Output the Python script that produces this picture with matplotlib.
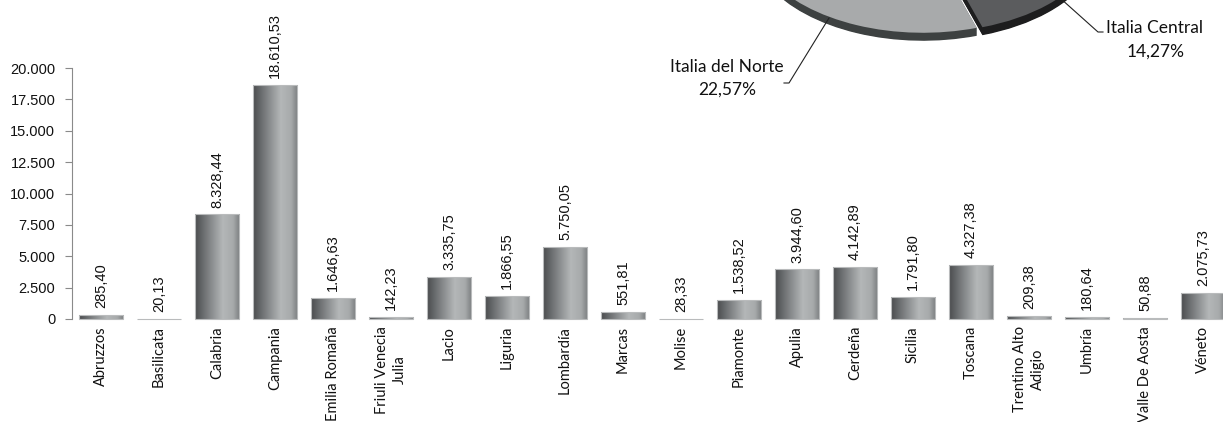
import numpy as np
import matplotlib
matplotlib.use("Agg")
import matplotlib.pyplot as plt
from matplotlib.colors import LinearSegmentedColormap
from matplotlib.lines import Line2D
from matplotlib.ticker import FuncFormatter, FixedLocator

# ---------------- data ----------------
regions = ["Abruzzos", "Basilicata", "Calabria", "Campania", "Emilia Romaña",
           "Friuli Venecia\nJulia", "Lacio", "Liguria", "Lombardía", "Marcas",
           "Molise", "Piamonte", "Apulia", "Cerdeña", "Sicilia", "Toscana",
           "Trentino Alto\nAdigio", "Umbría", "Valle De Aosta", "Véneto"]
values = [285.40, 20.13, 8328.44, 18610.53, 1646.63, 142.23, 3335.75, 1866.55,
          5750.05, 551.81, 28.33, 1538.52, 3944.60, 4142.89, 1791.80, 4327.38,
          209.38, 180.64, 50.88, 2075.73]
y_ticks = [0, 2500, 5000, 7500, 10000, 12500, 15000, 17500, 20000]

zones = ["Italia Central", "Italia del Norte", "Italia del Sur", "Islas"]
zone_shares = [14.27, 22.57, 53.07, 10.09]

# ---------------- helpers ----------------
def es_num(v, dec=2):
    s = f"{v:,.{dec}f}"
    return s.replace(",", "X").replace(".", ",").replace("X", ".")

W, H = 1223, 422
fig = plt.figure(figsize=(W / 100, H / 100), dpi=100)
fig.patch.set_facecolor("white")

NUM_FONT = ["Liberation Sans", "DejaVu Sans"]
LBL_FONT = ["Lato", "DejaVu Sans"]

# ---------------- bar chart ----------------
ax = fig.add_axes([72 / W, 103 / H, 1160 / W, 251 / H])
x = np.arange(len(regions))
cmap = LinearSegmentedColormap.from_list(
    "cyl", [(0.0, "#4a4c4e"), (0.30, "#7e8183"), (0.62, "#b4b7b8"),
            (0.85, "#a7aaab"), (1.0, "#7a7d7f")])
bars = ax.bar(x, values, width=0.76, facecolor="none", edgecolor="#b9bbbc",
              linewidth=0.8, zorder=3, clip_on=False)
grad = np.linspace(0, 1, 256)[None, :]
for b in bars:
    x0, w, h = b.get_x(), b.get_width(), b.get_height()
    im = ax.imshow(grad, extent=[x0, x0 + w, 0, h], aspect="auto", cmap=cmap,
                   interpolation="bilinear", zorder=2)
    im.set_clip_path(b)

ax.set_xlim(-0.5, len(regions) - 0.5)
ax.set_ylim(0, 20000)
ax.set_aspect("auto")

for s in ["top", "right", "bottom"]:
    ax.spines[s].set_visible(False)
ax.spines["left"].set_color("#8a8a8a")
ax.spines["left"].set_linewidth(0.8)

ax.yaxis.set_major_locator(FixedLocator(y_ticks))
ax.yaxis.set_major_formatter(FuncFormatter(lambda v, p: es_num(v, 0)))
ax.tick_params(axis="y", length=5, width=0.8, color="#8a8a8a", labelsize=10.5,
               pad=7, labelcolor="#111111")
for t in ax.get_yticklabels():
    t.set_family(NUM_FONT)

ax.set_xticks(x)
ax.set_xticklabels(regions, rotation=90, ha="center", va="top",
                   multialignment="center", fontsize=10.5, family=LBL_FONT,
                   color="#111111", linespacing=1.3)
ax.tick_params(axis="x", length=0, pad=5)

for xi, v in zip(x, values):
    ax.annotate(es_num(v), (xi, v), xytext=(0, 5), textcoords="offset points",
                rotation=90, ha="center", va="bottom", fontsize=10.5,
                family=NUM_FONT, color="#111111", annotation_clip=False)

# ---------------- pie (partially off-figure) ----------------
pax = fig.add_axes([752 / W, 392 / H, 346 / W, 200 / H])
top_cols = ["#5b5c5e", "#a8aaab", "#8a8c8e", "#6e7072"]
side_cols = ["#1d1d1e", "#3d4141", "#4a4c4e", "#333435"]
explode = [0.03, 0.03, 0.0, 0.0]
depth = 0.08
for d in np.linspace(depth, 0.005, 12):
    pax.pie(zone_shares, colors=side_cols, startangle=-20.5, counterclock=False,
            explode=explode, center=(0, -d), radius=1.0,
            wedgeprops=dict(linewidth=0))
pax.pie(zone_shares, colors=top_cols, startangle=-20.5, counterclock=False,
        explode=explode, center=(0, 0), radius=1.0, wedgeprops=dict(linewidth=0))
pax.set_aspect("auto")
pax.set_xlim(-1, 1)
pax.set_ylim(-1, 1)
pax.axis("off")

# labels + leader lines (figure pixel coordinates)
def fx(px):
    return px / W

def fy(py):
    return 1 - py / H

PIE_FS = 12.5
fig.text(fx(727), fy(67), "Italia del Norte", ha="center", va="center",
         fontsize=PIE_FS, family=LBL_FONT, color="#111111")
fig.text(fx(727), fy(90), "22,57%", ha="center", va="center",
         fontsize=PIE_FS, family=LBL_FONT, color="#111111")
fig.text(fx(1154), fy(28), "Italia Central", ha="center", va="center",
         fontsize=PIE_FS, family=LBL_FONT, color="#111111")
fig.text(fx(1156), fy(52), "14,27%", ha="center", va="center",
         fontsize=PIE_FS, family=LBL_FONT, color="#111111")

fig.add_artist(Line2D([fx(829), fx(789), fx(784)], [fy(18), fy(83), fy(83)],
                      transform=fig.transFigure, color="#222222", lw=0.8))
fig.add_artist(Line2D([fx(1060), fx(1098), fx(1103)], [fy(-2), fy(32), fy(32)],
                      transform=fig.transFigure, color="#222222", lw=0.8))

fig.savefig("out.png", dpi=100, facecolor="white")
